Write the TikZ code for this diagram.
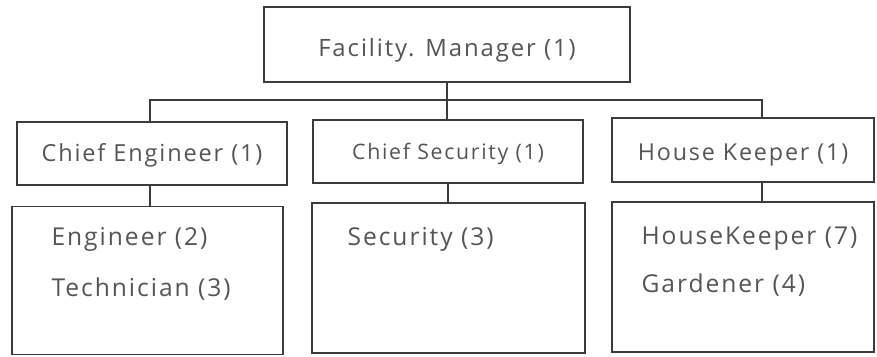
\documentclass[tikz,border=0pt]{standalone}
\usepackage{fontspec}
\setmainfont{Open Sans}
\newfontfamily\orgfont[LetterSpace=8]{Open Sans}
\definecolor{InkGray}{RGB}{60,60,60}
\definecolor{TextGray}{RGB}{85,85,85}
\usetikzlibrary{positioning,calc}

\begin{document}
\begin{tikzpicture}[x=1pt,y=-1pt,
  head/.style={draw=InkGray,line width=1.3pt,text=TextGray,minimum height=63pt,inner sep=0pt},
  staffbox/.style={draw=InkGray,line width=1.3pt,minimum height=148pt,inner sep=0pt},
  staff/.style={text=TextGray,align=left,anchor=north west,inner sep=0pt,font=\orgfont\fontsize{24.6}{51}\selectfont}]
  \useasboundingbox (0,0) rectangle (877,356);
  % top level
  \node[head,minimum width=366pt,minimum height=75pt,text height=26pt,text depth=1.6pt,font=\orgfont\fontsize{23.9}{28}\selectfont] (fm) at (447,44.5) {Facility. Manager (1)};
  % chiefs
  \node[head,minimum width=270pt,text height=18pt,text depth=2.8pt,font=\orgfont\fontsize{23.5}{27}\selectfont] (ce) at (152,153.5) {Chief Engineer (1)};
  \node[head,minimum width=270pt,text height=17pt,text depth=2pt,font=\orgfont\fontsize{21.3}{25}\selectfont] (cs) at (448,151.5) {Chief Security (1)};
  \node[head,minimum width=262pt,minimum height=64pt,text height=22pt,text depth=1.8pt,font=\orgfont\fontsize{23.3}{27}\selectfont] (hk) at (743,150) {House Keeper (1)};
  % staff
  \node[staffbox,minimum width=271pt] (eng) at (147.5,280.5) {};
  \node[staffbox,minimum width=273pt,minimum height=150pt] (sec) at (448.5,278) {};
  \node[staffbox,minimum width=262pt,minimum height=150pt] (hks) at (743,277) {};
  \node[staff] (engtxt) at ([shift={(40,21)}]eng.north west) {Engineer (2)\\Technician (3)};
  \node[staff] (sectxt) at ([shift={(36,25)}]sec.north west) {Security (3)};
  \node[staff,font=\orgfont\fontsize{24.6}{48}\selectfont] (hkstxt) at ([shift={(30,25)}]hks.north west) {HouseKeeper (7)\\Gardener (4)};
  % connectors
  \coordinate (b1) at (150,100);
  \coordinate (b3) at (762,100);
  \draw[InkGray,line width=1.3pt] (b1 |- ce.north) -- (b1) -- (b3) -- (b3 |- hk.north);
  \draw[InkGray,line width=1.3pt] (fm.south) -- (fm.south |- cs.north);
  \draw[InkGray,line width=1.3pt] (b1 |- ce.south) -- (b1 |- eng.north);
  \draw[InkGray,line width=1.3pt] (cs.south) -- (cs.south |- sec.north);
  \draw[InkGray,line width=1.3pt] (b3 |- hk.south) -- (b3 |- hks.north);
\end{tikzpicture}
\end{document}
